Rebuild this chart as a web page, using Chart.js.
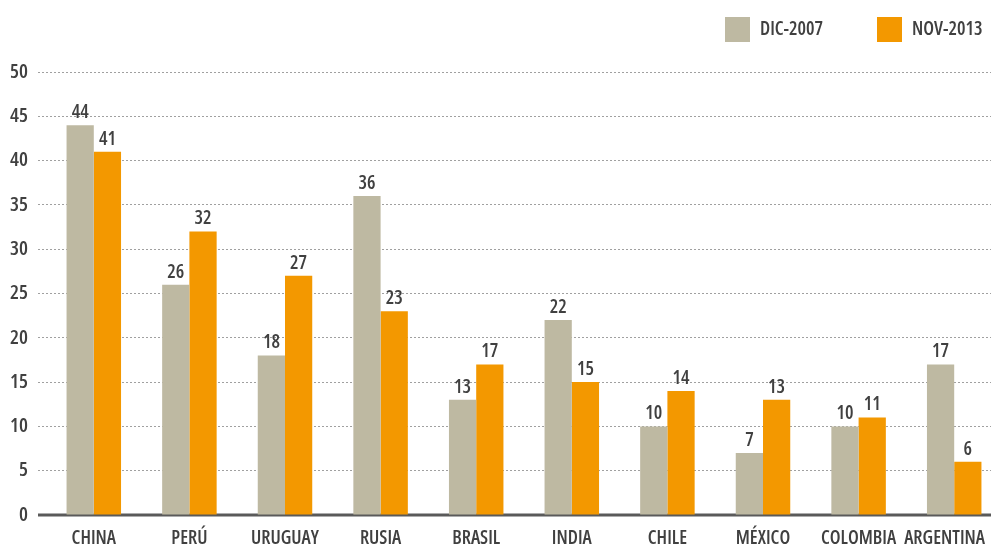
<!DOCTYPE html>
<html>
<head>
<meta charset="utf-8">
<script src="https://cdn.jsdelivr.net/npm/chart.js@4"></script>
<style>
  html, body { margin: 0; padding: 0; background: #fff; overflow: hidden; }
  #wrap { width: 1002px; height: 549px; }
</style>
</head>
<body>
<div id="wrap"><canvas id="paisesChart"></canvas></div>
<script>
const categories = ['CHINA', 'PERÚ', 'URUGUAY', 'RUSIA', 'BRASIL', 'INDIA', 'CHILE', 'MÉXICO', 'COLOMBIA', 'ARGENTINA'];
const dic2007 = [44, 26, 18, 36, 13, 22, 10, 7, 10, 17];
const nov2013 = [41, 32, 27, 23, 17, 15, 14, 13, 11, 6];
const yTicks = [0, 5, 10, 15, 20, 25, 30, 35, 40, 45, 50];

const FONT = "'Open Sans', sans-serif";
const WEIGHT = '600 condensed';
const TEXT = '#404040';
const VISIBLE_W = 991; // ancho de la ventana

// etiquetas de valor encima de cada barra
const valueLabels = {
    id: 'valueLabels',
    afterDatasetsDraw(chart) {
        const ctx = chart.ctx;
        ctx.save();
        ctx.font = WEIGHT + ' 19px ' + FONT;
        ctx.fillStyle = TEXT;
        ctx.textAlign = 'center';
        ctx.textBaseline = 'bottom';
        chart.data.datasets.forEach((ds, i) => {
            chart.getDatasetMeta(i).data.forEach((bar, j) => {
                ctx.fillText(ds.data[j], bar.x, bar.y - 3);
            });
        });
        ctx.restore();
    }
};

// nombres de paises bajo el eje; el ultimo se recorta al borde visible
const categoryLabels = {
    id: 'categoryLabels',
    afterDraw(chart) {
        const ctx = chart.ctx;
        const xs = chart.scales.x;
        ctx.save();
        ctx.font = WEIGHT + ' 19px ' + FONT;
        ctx.fillStyle = TEXT;
        ctx.textAlign = 'center';
        ctx.textBaseline = 'middle';
        categories.forEach((c, i) => {
            const w = ctx.measureText(c).width;
            const x = Math.min(xs.getPixelForTick(i), VISIBLE_W - 6 - w / 2);
            ctx.fillText(c, x, xs.top + 24);
        });
        ctx.restore();
    }
};

// linea del cero, debajo de las barras
const zeroLine = {
    id: 'zeroLine',
    beforeDatasetsDraw(chart) {
        const ctx = chart.ctx;
        const y = chart.scales.y.getPixelForValue(0);
        ctx.save();
        ctx.strokeStyle = '#5a5a5a';
        ctx.lineWidth = 3;
        ctx.beginPath();
        ctx.moveTo(chart.chartArea.left - 8, y);
        ctx.lineTo(chart.chartArea.right, y);
        ctx.stroke();
        ctx.restore();
    }
};

// leyenda arriba a la derecha
const topLegend = {
    id: 'topLegend',
    afterDraw(chart) {
        const ctx = chart.ctx;
        const xs = [725, 877];
        ctx.save();
        ctx.font = WEIGHT + ' 19px ' + FONT;
        ctx.textBaseline = 'middle';
        ctx.textAlign = 'left';
        chart.data.datasets.forEach((ds, i) => {
            ctx.fillStyle = ds.backgroundColor;
            ctx.fillRect(xs[i], 17, 25, 25);
            ctx.fillStyle = TEXT;
            ctx.fillText(ds.label, xs[i] + 35, 30);
        });
        ctx.restore();
    }
};

new Chart(document.getElementById('paisesChart').getContext('2d'), {
    type: 'bar',
    data: {
        labels: categories,
        datasets: [{
            label: 'DIC-2007',
            data: dic2007,
            backgroundColor: '#BEB9A2',
            categoryPercentage: 0.57,
            barPercentage: 1.0
        }, {
            label: 'NOV-2013',
            data: nov2013,
            backgroundColor: '#F39800',
            categoryPercentage: 0.57,
            barPercentage: 1.0
        }]
    },
    options: {
        responsive: true,
        maintainAspectRatio: false,
        animation: false,
        layout: {
            padding: { top: 72, right: 0, left: 0, bottom: 0 }
        },
        scales: {
            x: {
                grid: { display: false },
                border: { display: false },
                ticks: { display: false },
                afterFit: s => { s.height = 34; }
            },
            y: {
                min: 0,
                max: 50,
                afterBuildTicks: s => { s.ticks = yTicks.map(v => ({ value: v })); },
                grid: {
                    color: '#a0a0a0',
                    lineWidth: 1,
                    tickLength: 8,
                    tickColor: '#a0a0a0',
                    tickBorderDash: [2, 2]
                },
                border: { display: false, dash: [2, 2] },
                ticks: {
                    color: TEXT,
                    padding: 10,
                    font: { family: FONT, size: 20, weight: WEIGHT }
                },
                afterFit: s => { s.width = 46; }
            }
        },
        plugins: {
            legend: { display: false },
            tooltip: { enabled: false }
        }
    },
    plugins: [zeroLine, valueLabels, categoryLabels, topLegend]
});
</script>
</body>
</html>
